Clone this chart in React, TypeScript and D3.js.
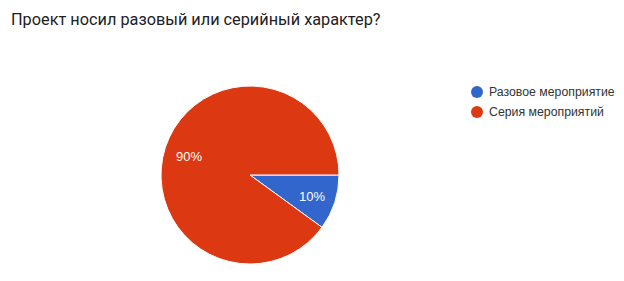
import React from "react";
import * as d3 from "d3";

const categories = ["Разовое мероприятие", "Серия мероприятий"];
const values = [10, 90];
const colors = ["#3366cc", "#dc3912"];
const title = "Проект носил разовый или серийный характер?";

export default function App() {
  const width = 624, height = 281;
  const cx = 250, cy = 175, r = 89;
  const pie = d3.pie<number>().sort(null).startAngle(Math.PI / 2).endAngle(Math.PI / 2 + 2 * Math.PI);
  const arcs = pie(values);
  const arc = d3.arc<d3.PieArcDatum<number>>().innerRadius(0).outerRadius(r);
  const total = d3.sum(values);
  const labelPos = [
    [62, 21],
    [-61, -19],
  ];
  return (
    <svg width={width} height={height} style={{ position: "absolute", left: 0, top: 0, background: "#fff" }}>
      <rect width={width} height={height} fill="#fff" />
      <text x={11} y={25} fontFamily="Roboto, Arial, sans-serif" fontSize={16.3} fill="#202124">{title}</text>
      <g transform={`translate(${cx},${cy})`}>
        {arcs.map((a, i) => (
          <path key={i} d={arc(a) || ""} fill={colors[i]} stroke="#fff" strokeWidth={1} />
        ))}
        {arcs.map((a, i) => (
          <text key={"l" + i} x={labelPos[i][0]} y={labelPos[i][1]} textAnchor="middle" dominantBaseline="central"
            fontFamily="Arial, Liberation Sans, sans-serif" fontSize={13} fill="#fff">
            {Math.round((values[i] / total) * 100)}%
          </text>
        ))}
      </g>
      {categories.map((c, i) => (
        <g key={c} transform={`translate(477,${92 + i * 20})`}>
          <circle r={6} fill={colors[i]} />
          <text x={12} y={0} dominantBaseline="central" fontFamily="Arial, Liberation Sans, sans-serif" fontSize={12.3} fill="#333">{c}</text>
        </g>
      ))}
    </svg>
  );
}
